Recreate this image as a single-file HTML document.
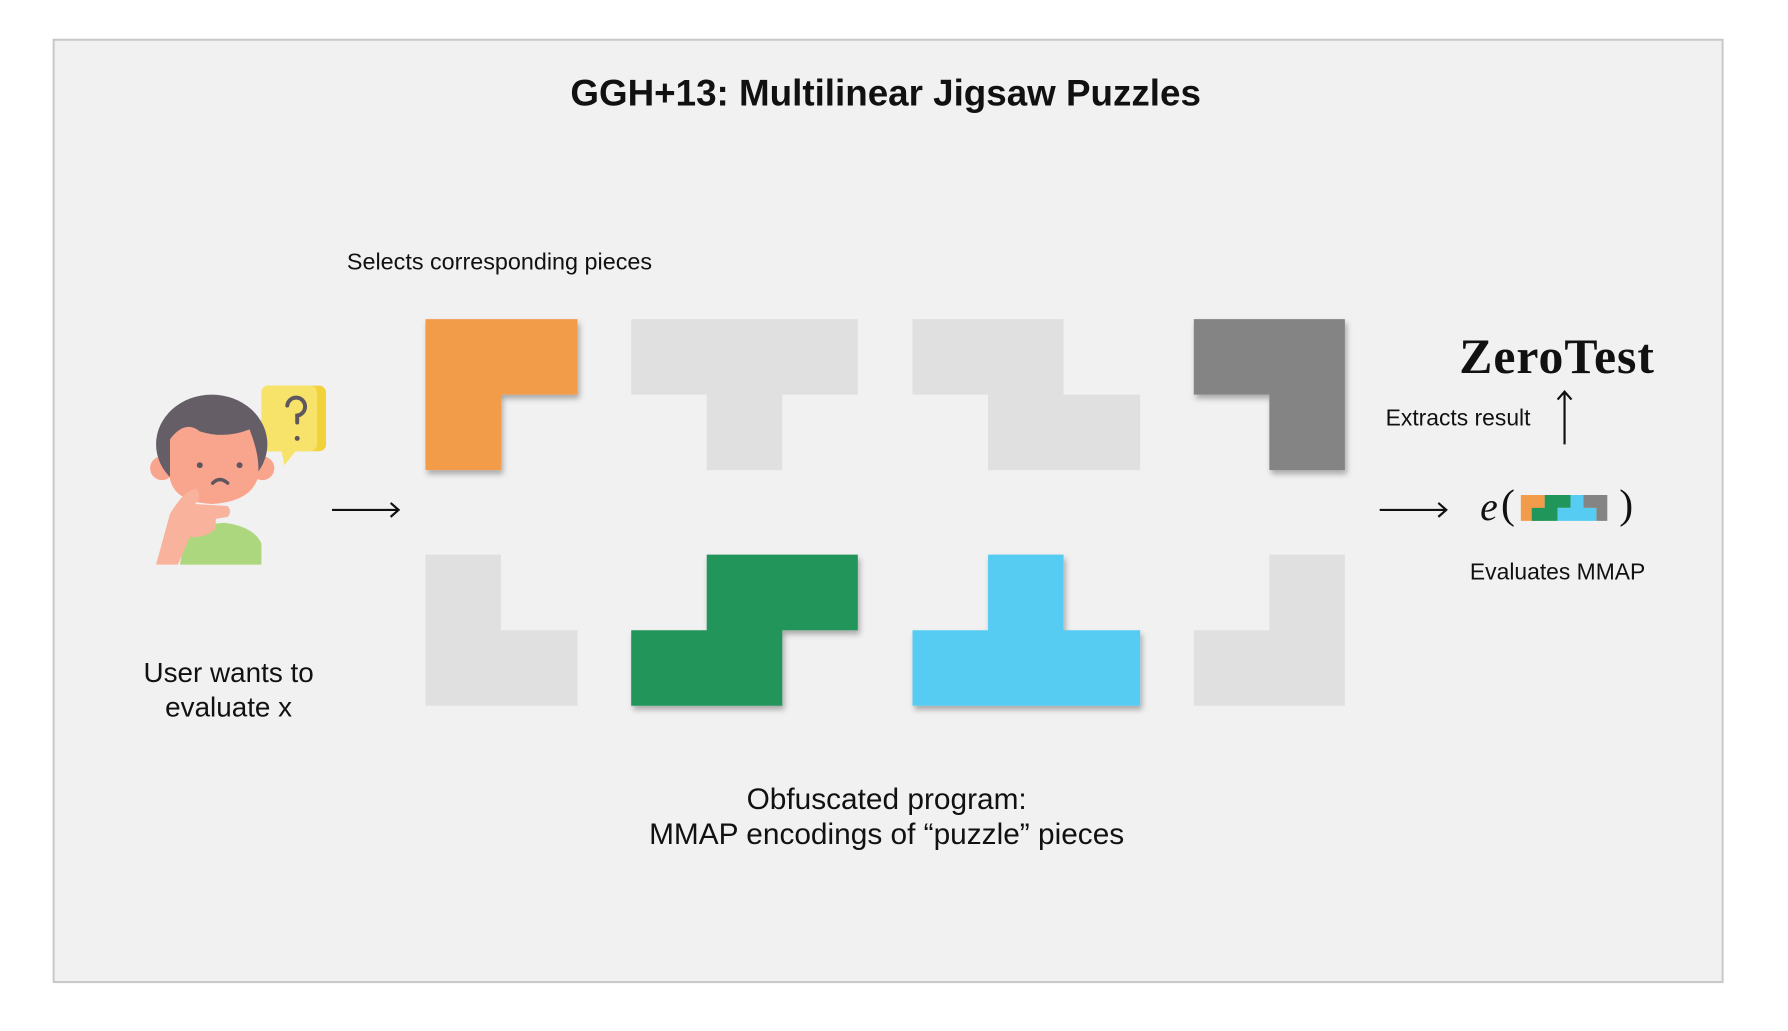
<!DOCTYPE html>
<html><head><meta charset="utf-8"><style>
html,body{margin:0;padding:0;background:#fff;}
body{width:1788px;height:1031px;position:relative;overflow:hidden;font-family:"Liberation Sans",sans-serif;color:#111;}
#w{position:absolute;left:0;top:0;width:1788px;height:1031px;transform:scale(0.994);transform-origin:0 0;}
.frame{position:absolute;left:53px;top:39px;width:1677px;height:946px;background:#f1f1f1;border:2px solid #c8c8c8;}
.t{position:absolute;white-space:nowrap;}
</style></head><body><div id="w">
<div class="frame"></div>
<div class="t" style="left:0;width:1782px;text-align:center;top:73px;font-size:37px;font-weight:bold;">GGH+13: Multilinear Jigsaw Puzzles</div>
<div class="t" style="left:349px;top:250px;font-size:23.5px;">Selects corresponding pieces</div>
<div class="t" style="left:130px;width:200px;text-align:center;top:659px;font-size:28px;line-height:35px;white-space:normal;">User wants to<br>evaluate x</div>
<div class="t" style="left:542px;width:700px;text-align:center;top:787px;font-size:30px;line-height:35px;white-space:normal;">Obfuscated program:<br>MMAP encodings of “puzzle” pieces</div>
<div class="t" style="left:1394px;top:407px;font-size:23px;">Extracts result</div>
<div class="t" style="left:1467px;width:200px;text-align:center;top:562px;font-size:23px;">Evaluates MMAP</div>
<div class="t" style="left:1468px;top:329px;font-size:50px;font-weight:bold;letter-spacing:1px;font-family:'Liberation Serif',serif;">ZeroTest</div>
<div class="t" style="left:1489px;top:486px;font-size:40px;font-style:italic;font-family:'Liberation Serif',serif;">e</div>
<div class="t" style="left:1510px;top:484px;font-size:42px;font-family:'Liberation Serif',serif;">(</div>
<div class="t" style="left:1629px;top:484px;font-size:42px;font-family:'Liberation Serif',serif;">)</div>
<svg width="1788" height="1031" style="position:absolute;left:0;top:0">
<defs><filter id="sh" x="-10%" y="-10%" width="130%" height="130%"><feDropShadow dx="2" dy="4" stdDeviation="3" flood-color="#000" flood-opacity="0.3"/></filter></defs>
<g transform="translate(1,2)">
<path d="M427 319H580V395H503V471H427Z" fill="#f29b4a" filter="url(#sh)"/>
<path d="M634 319H862V395H786V471H710V395H634Z" fill="#e0e0e0"/>
<path d="M917 319H1069V395H1146V471H993V395H917Z" fill="#e0e0e0"/>
<path d="M1200 319H1352V471H1276V395H1200Z" fill="#848484" filter="url(#sh)"/>
<path d="M427 556H503V632H580V708H427Z" fill="#e0e0e0"/>
<path d="M710 556H862V632H786V708H634V632H710Z" fill="#21965a" filter="url(#sh)"/>
<path d="M993 556H1069V632H1146V708H917V632H993Z" fill="#56ccf2" filter="url(#sh)"/>
<path d="M1276 556H1352V708H1200V632H1276Z" fill="#e0e0e0"/>
</g>
<g stroke="#111" stroke-width="2.2" fill="none">
<path d="M334 513H401M393 506L401 513L393 520"/>
<path d="M1388 513H1455M1447 506L1455 513L1447 520"/>
<path d="M1574 447V394M1567 402L1574 394L1581 402"/>
</g>
<g transform="translate(7,2)">
<rect x="1523" y="496" width="24" height="26" fill="#f29b4a"/>
<path d="M1547 496H1573V509H1560V522H1534V509H1547Z" fill="#21965a"/>
<path d="M1573 496H1586V509H1599V522H1560V509H1573Z" fill="#56ccf2"/>
<path d="M1586 496H1610V522H1599V509H1586Z" fill="#848484"/>
</g>
<g transform="translate(1,2)">
<rect x="262" y="386" width="65" height="66" rx="7" fill="#f2d23a"/>
<rect x="262" y="386" width="56" height="66" rx="7" fill="#f7e36a"/>
<path d="M282 450L285 466L298 450Z" fill="#f7e36a"/>
<path d="M288 406a9 9 0 1 1 10 10v7" stroke="#5e575f" stroke-width="4" fill="none" stroke-linecap="round"/>
<circle cx="298" cy="439" r="2.5" fill="#5e575f"/>
<path d="M180 566L186 535Q200 525 225 524Q255 528 262 545V566Z" fill="#acd77e"/>
<circle cx="162" cy="469" r="12" fill="#f9a58d"/>
<circle cx="263" cy="469" r="12" fill="#f9a58d"/>
<ellipse cx="212" cy="445" rx="56" ry="50" fill="#655e66"/>
<path d="M170 440Q185 420 200 432Q225 440 250 430Q262 460 258 480Q250 503 212 505Q175 503 170 480Z" fill="#f9a58d"/>
<circle cx="200" cy="466" r="3" fill="#5e575f"/>
<circle cx="240" cy="466" r="3" fill="#5e575f"/>
<path d="M213 484Q220 477 228 484" stroke="#5e575f" stroke-width="3.5" fill="none" stroke-linecap="round"/>
<path d="M156 566L170 515Q185 490 197 490Q203 500 195 505L228 507Q233 513 228 518L216 520V530Q205 540 190 538L178 566Z" fill="#f9b29c"/>
</g>
</svg>
</div></body></html>
